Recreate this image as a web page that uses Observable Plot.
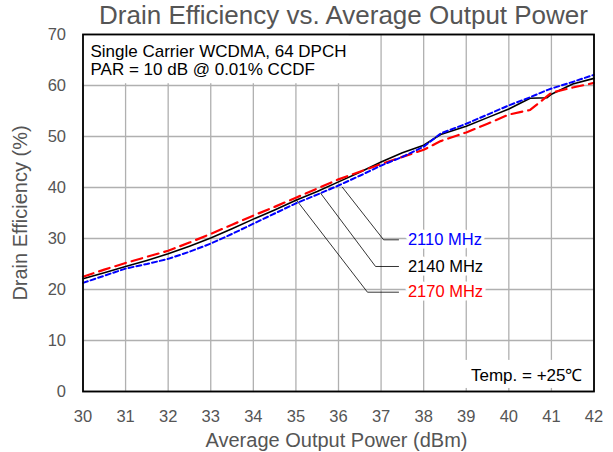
<!DOCTYPE html>
<html><head><meta charset="utf-8">
<script src="https://cdn.jsdelivr.net/npm/d3@7"></script>
<script src="https://cdn.jsdelivr.net/npm/@observablehq/plot@0.6"></script>
<style>
body{margin:0;background:#fff;}
svg{font-family:"Liberation Sans",Arial,Helvetica,sans-serif;}
</style>
</head><body><div id="chart"></div>
<script>
// ---- data ----
const power = [30,30.5,31,31.5,32,32.5,33,33.5,34,34.5,35,35.5,36,36.5,37,37.5,38,38.4,39,39.5,40,40.5,40.9,41,41.5,42];
const eff2110 = [21.3,22.7,24.1,25.0,26.0,27.4,29.0,30.9,32.9,34.9,36.9,38.6,40.4,42.3,44.3,46.0,48.0,50.6,52.5,54.3,56.1,57.7,59.1,59.4,60.7,62.1];
const eff2140 = [22.1,23.3,24.5,25.7,27.0,28.5,30.1,31.9,33.8,35.6,37.5,39.2,41.1,43.0,45.0,46.8,48.3,50.4,52.0,53.7,55.4,57.5,57.6,58.3,60.3,61.4];
const eff2170 = [22.5,23.9,25.2,26.4,27.6,29.2,30.9,32.7,34.5,36.2,38.0,39.8,41.6,43.1,44.6,46.0,47.4,49.1,50.8,52.5,54.3,55.2,57.9,58.6,59.6,60.5];
const freqs = ["2110 MHz","2140 MHz","2170 MHz"];
const xTicks = [30,31,32,33,34,35,36,37,38,39,40,41,42];
const yTicks = [0,10,20,30,40,50,60,70];
// leader-line annotation anchors (data units)
const leaderTipX = [36.09,35.58,35.01];
const leaderTipY = [40.06,38.88,37.57];
const leaderBendX = [37.06,36.87,36.68];
const leaderEndX = 37.41;
const labelX = 37.63;
const labelY = [29.74,24.51,19.47];
const noteLines = ["Single Carrier WCDMA, 64 DPCH","PAR = 10 dB @ 0.01% CCDF"];
const tempNote = "Temp. = +25\u2103";
const titleText = "Drain Efficiency vs. Average Output Power";
const xLabel = "Average Output Power (dBm)";
const yLabel = "Drain Efficiency (%)";
const noteBox = [{x1:30,x2:36.25,y1:60.35,y2:70}];
const tempBox = [{x1:38.74,x2:42,y1:0.6,y2:6.1}];

// ---- build tables ----
const effs = [eff2110, eff2140, eff2170];
const rows = freqs.flatMap((f,i)=>power.map((p,j)=>({freq:f, power:p, eff:effs[i][j]})));
const leaders = freqs.flatMap((f,i)=>[
  {freq:f, x:leaderTipX[i], y:leaderTipY[i]},
  {freq:f, x:leaderBendX[i], y:labelY[i]},
  {freq:f, x:leaderEndX, y:labelY[i]}
]);
const labels = freqs.map((f,i)=>({freq:f, x:labelX, y:labelY[i]}));
const colors = {"2110 MHz":"#0000ff","2140 MHz":"#000000","2170 MHz":"#ff0000"};

const chart = Plot.plot({
  width: 613, height: 452,
  marginLeft: 82.5, marginRight: 19.5, marginTop: 34, marginBottom: 61,
  x: {domain:[30,42]},
  y: {domain:[0,70]},
  style: {fontSize:"16px", color:"#555", background:"white"},
  marks: [
    Plot.gridX(xTicks, {stroke:"#b0b0b0", strokeOpacity:1, strokeWidth:1.3}),
    Plot.gridY(yTicks, {stroke:"#b0b0b0", strokeOpacity:1, strokeWidth:1.3}),
    Plot.rect(noteBox, {x1:"x1",x2:"x2",y1:"y1",y2:"y2", fill:"white"}),
    Plot.rect(tempBox, {x1:"x1",x2:"x2",y1:"y1",y2:"y2", fill:"white"}),
    Plot.axisX(xTicks, {tickSize:0, tickPadding:19, fontSize:16.5, label:null, tickFormat:d=>String(d)}),
    Plot.axisY(yTicks, {tickSize:0, tickPadding:17, fontSize:16.5, label:null, tickFormat:d=>String(d)}),
    Plot.line(leaders, {x:"x", y:"y", z:"freq", stroke:"black", strokeWidth:0.8}),
    Plot.text(labels, {x:"x", y:"y", text:"freq", textAnchor:"start", fontSize:16.5, fill:d=>colors[d.freq], stroke:"white", strokeWidth:7}),
    Plot.line(rows.filter(d=>d.freq==="2140 MHz"), {x:"power", y:"eff", stroke:"#000", strokeWidth:1.6}),
    Plot.line(rows.filter(d=>d.freq==="2170 MHz"), {x:"power", y:"eff", stroke:"#ff0000", strokeWidth:2.2, strokeDasharray:"11,6"}),
    Plot.line(rows.filter(d=>d.freq==="2110 MHz"), {x:"power", y:"eff", stroke:"#0000ff", strokeWidth:2, strokeDasharray:"5,3"}),
    Plot.text([noteLines[0]], {text:d=>d, frameAnchor:"top-left", textAnchor:"start", lineAnchor:"bottom", dx:7.5, dy:22, fontSize:17, fill:"black"}),
    Plot.text([noteLines[1]], {text:d=>d, frameAnchor:"top-left", textAnchor:"start", lineAnchor:"bottom", dx:7.5, dy:40, fontSize:17, fill:"black"}),
    Plot.text([tempNote], {text:d=>d, frameAnchor:"bottom-right", textAnchor:"end", lineAnchor:"bottom", dx:-11.5, dy:-11, fontSize:17, fill:"black"}),
    Plot.text([titleText], {text:d=>d, frameAnchor:"top", lineAnchor:"bottom", dx:5, dy:-11, fontSize:26, fill:"#555"}),
    Plot.text([xLabel], {text:d=>d, frameAnchor:"bottom", lineAnchor:"bottom", dx:-2, dy:55, fontSize:20, fill:"#555"}),
    Plot.text([yLabel], {text:d=>d, frameAnchor:"left", textAnchor:"middle", rotate:-90, dx:-62, fontSize:20, fill:"#555"}),
    Plot.frame({stroke:"black", strokeWidth:1.8})
  ]
});
document.getElementById("chart").appendChild(chart);
</script>
</body></html>
